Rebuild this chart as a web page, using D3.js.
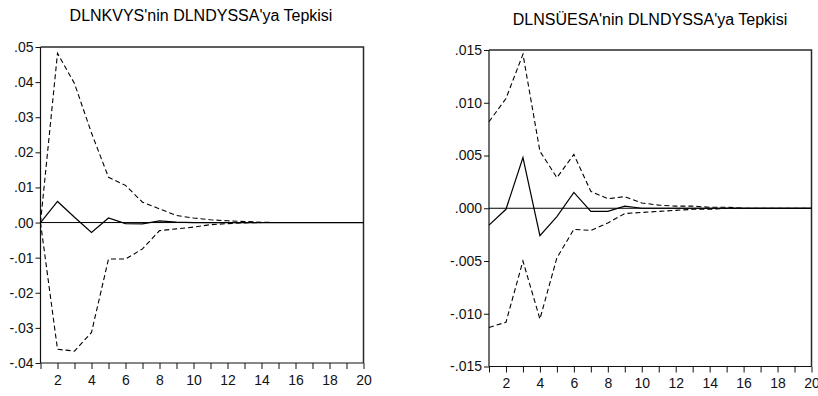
<!DOCTYPE html>
<html>
<head>
<meta charset="utf-8">
<script src="https://cdn.jsdelivr.net/npm/d3@7"></script>
<style>
  body { margin: 0; background: #fff; }
  svg { display: block; font-family: "Liberation Sans", Arial, sans-serif; }
</style>
</head>
<body>
<div id="chart"></div>
<script>
// periods 1..20
var periods = d3.range(1, 21);

// left panel: DLNKVYS
var leftTitle = "DLNKVYS'nin DLNDYSSA'ya Tepkisi";
var leftResp  = [0, 0.006, 0.0015, -0.0028, 0.0013, -0.0003, -0.0004, 0.0005, 0.0001, 0, 0, 0, 0, 0, 0, 0, 0, 0, 0, 0];
var leftUpper = [0, 0.0482, 0.0396, 0.0255, 0.0129, 0.0106, 0.0058, 0.0039, 0.002, 0.0013, 0.0008, 0.0005, 0.0003, 0.0001, 0, 0, 0, 0, 0, 0];
var leftLower = [0, -0.0361, -0.0366, -0.0313, -0.0104, -0.0104, -0.0075, -0.0023, -0.0018, -0.0013, -0.0006, -0.0003, -0.0001, 0, 0, 0, 0, 0, 0, 0];
var leftTicks = [-0.04, -0.03, -0.02, -0.01, 0, 0.01, 0.02, 0.03, 0.04, 0.05];

// right panel: DLNSÜESA
var rightTitle = "DLNSÜESA'nin DLNDYSSA'ya Tepkisi";
var rightResp  = [-0.0016, -0.0001, 0.0048, -0.0026, -0.0008, 0.0015, -0.0003, -0.0003, 0.0002, 0, 0, 0, 0, 0, 0, 0, 0, 0, 0, 0];
var rightUpper = [0.0082, 0.0104, 0.0146, 0.0054, 0.0029, 0.0051, 0.0016, 0.0009, 0.0011, 0.0005, 0.0003, 0.0002, 0.0002, 0.0001, 0.0001, 0, 0, 0, 0, 0];
var rightLower = [-0.0113, -0.0108, -0.005, -0.0105, -0.0047, -0.002, -0.0021, -0.0014, -0.0005, -0.0004, -0.0003, -0.0002, -0.0001, -0.0001, 0, 0, 0, 0, 0, 0];
var rightTicks = [-0.015, -0.01, -0.005, 0, 0.005, 0.01, 0.015];

var xTickLabels = [2, 4, 6, 8, 10, 12, 14, 16, 18, 20];

var svg = d3.select("#chart").append("svg")
    .attr("width", 818)
    .attr("height", 396);

function drawPanel(p) {
	var x = d3.scaleLinear().domain([1, 20]).range([p.left, p.right]);
	var y = d3.scaleLinear().domain(p.domain).range([p.bottom, p.top]);
	var g = svg.append("g");

	g.append("text")
		.attr("x", p.titleX)
		.attr("y", p.titleY)
		.attr("text-anchor", "middle")
		.attr("font-size", "16px")
		.text(p.title);

	// frame (top, right)
	g.append("path")
		.attr("d", "M" + p.left + "," + p.top + "H" + p.right + "V" + p.bottom)
		.attr("fill", "none")
		.attr("stroke", "#2a2a2a")
		.attr("stroke-width", 1.5);

	var yAxis = d3.axisLeft(y)
		.tickValues(p.ticks)
		.tickSize(5)
		.tickPadding(2)
		.tickFormat(function(d) {
			var s = d3.format(p.fmt)(d).replace("−", "-");
			return s.replace(/^(-?)0\./, "$1.");
		});
	var ya = g.append("g")
		.attr("transform", "translate(" + p.left + ",0)")
		.call(yAxis);

	var xAxis = d3.axisBottom(x)
		.tickValues(periods)
		.tickSize(6)
		.tickPadding(6)
		.tickFormat(function(d) { return xTickLabels.indexOf(d) >= 0 ? d : ""; });
	var xa = g.append("g")
		.attr("transform", "translate(0," + p.bottom + ")")
		.call(xAxis);

	[ya, xa].forEach(function(a) {
		a.select(".domain").attr("stroke", "#111").attr("stroke-width", 1.2);
		a.selectAll(".tick line").attr("stroke", "#111");
		a.selectAll("text").attr("font-size", "14px").attr("fill", "#111")
			.attr("font-family", "'Liberation Sans', Arial, sans-serif");
	});
	xa.select(".domain").attr("d", "M" + p.left + ",0H" + p.right);
	ya.select(".domain").attr("d", "M0," + p.top + "V" + p.bottom);

	// zero line
	g.append("line")
		.attr("x1", p.left).attr("x2", p.right)
		.attr("y1", y(0)).attr("y2", y(0))
		.attr("stroke", "#000")
		.attr("stroke-width", 1);

	var line = d3.line()
		.x(function(d, i) { return x(periods[i]); })
		.y(function(d) { return y(d); });

	[p.upper, p.lower].forEach(function(s) {
		g.append("path")
			.attr("d", line(s))
			.attr("fill", "none")
			.attr("stroke", "#000")
			.attr("stroke-width", 1.1)
			.attr("stroke-dasharray", "5,3");
	});
	g.append("path")
		.attr("d", line(p.resp))
		.attr("fill", "none")
		.attr("stroke", "#000")
		.attr("stroke-width", 1.2);
}

drawPanel({
	title: leftTitle, titleX: 201, titleY: 21,
	left: 40.5, right: 363.5, top: 47, bottom: 363,
	domain: [-0.04, 0.05], ticks: leftTicks, fmt: ".2f",
	resp: leftResp, upper: leftUpper, lower: leftLower
});

drawPanel({
	title: rightTitle, titleX: 650, titleY: 25,
	left: 489, right: 811.5, top: 50, bottom: 366.5,
	domain: [-0.015, 0.015], ticks: rightTicks, fmt: ".3f",
	resp: rightResp, upper: rightUpper, lower: rightLower
});
</script>
</body>
</html>
